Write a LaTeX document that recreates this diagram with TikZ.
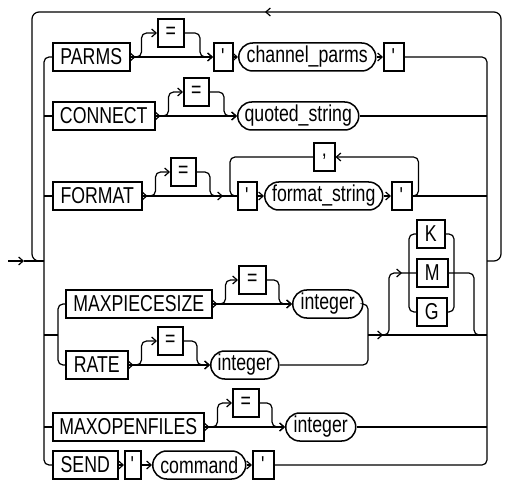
\documentclass[tikz,border=0pt]{standalone}
\usepackage{fontspec}
\setmainfont{Liberation Sans}[FakeStretch=0.77]
\usetikzlibrary{arrows.meta,shapes.misc,decorations.markings}
\begin{document}
\begin{tikzpicture}[x=1pt,y=-1pt,
  barb/.tip={Straight Barb[length=4.5pt,width=8pt]},
  conn/.style={line width=1.2pt},
  rc/.style={rounded corners=5pt},
  tb/.style={draw, line width=1.5pt, minimum height=28pt, inner sep=0pt, anchor=west, font=\fontsize{23}{23}\selectfont},
  tov/.style={tb, rounded rectangle},
  tipat/.style={postaction={decorate, decoration={markings, mark=at position #1 with {\arrow{barb}}}}}]
\useasboundingbox (0,0) rectangle (509,481);

% nodes
\node[tb, minimum width=77pt] (parms) at (52,57) {PARMS};
\node[tb, minimum width=26pt] (eq1) at (157,33) {=};
\node[tb, minimum width=19pt] (q1) at (213,57) {\textquotesingle};
\node[tov, minimum width=137pt] (cp) at (238,57) {channel\_parms};
\node[tb, minimum width=20pt] (q2) at (383,57) {\textquotesingle};

\node[tb, minimum width=102pt] (connect) at (52,116) {CONNECT};
\node[tb, minimum width=25pt] (eq2) at (183,92) {=};
\node[tov, minimum width=121pt] (qs) at (237,116) {quoted\_string};

\node[tb, minimum width=89pt] (format) at (52,196) {FORMAT};
\node[tb, minimum width=25pt] (eq3) at (170,172) {=};
\node[tb, minimum width=19pt] (q3) at (237,196) {\textquotesingle};
\node[tov, minimum width=118pt] (fs) at (264,196) {format\_string};
\node[tb, minimum width=20pt] (q4) at (391,196) {\textquotesingle};
\node[tb, minimum width=21pt] (comma) at (313,157) {,};

\node[tb, minimum width=146pt] (mps) at (65,304) {MAXPIECESIZE};
\node[tb, minimum width=27pt] (eq4) at (238,280) {=};
\node[tov, minimum width=70pt] (int1) at (292,304) {integer};

\node[tb, minimum width=62pt] (rate) at (65,365) {RATE};
\node[tb, minimum width=25pt] (eq5) at (157,341) {=};
\node[tov, minimum width=68pt] (int2) at (210,365) {integer};

\node[tb, minimum width=28pt] (kk) at (416,234) {K};
\node[tb, minimum width=31pt] (mm) at (416,273) {M};
\node[tb, minimum width=30pt] (gg) at (416,312) {G};

\node[tb, minimum width=151pt] (mof) at (52,427) {MAXOPENFILES};
\node[tb, minimum width=26pt] (eq6) at (232,403) {=};
\node[tov, minimum width=70pt] (int3) at (285,427) {integer};

\node[tb, minimum width=65pt] (send) at (52,465) {SEND};
\node[tb, minimum width=16pt] (q5) at (124,465) {\textquotesingle};
\node[tov, minimum width=93pt] (cmd) at (152,465) {command};
\node[tb, minimum width=21pt] (q6) at (252,465) {\textquotesingle};

% coordinates
\coordinate (L) at (44,0);
\coordinate (R) at (487,0);
\coordinate (L2) at (58,0);
\coordinate (R2) at (368,0);
\coordinate (KL) at (409,0);
\coordinate (KR) at (454,0);
\coordinate (st) at (8,261);
\coordinate (ea) at (24,261);
\coordinate (Lj) at (44,261);
\coordinate (Rj) at (487,261);
\coordinate (o1) at (501,261);
\coordinate (o2) at (501,12);
\coordinate (o3) at (32,12);
\coordinate (o4) at (32,261);
\coordinate (j1) at (44,335);
\coordinate (j2) at (58,335);
\coordinate (j3) at (368,335);
\coordinate (j4) at (487,335);
\coordinate (m0) at (383,335);
\coordinate (m1) at (389,335);
\coordinate (m2) at (474,335);
\coordinate (m3) at (481,335);

% entry and outer loop
\draw[conn,-barb] (st) -- (ea);
\draw[conn] (ea) -- (Lj);
\draw[conn,rounded corners=7pt,tipat=493pt] (Rj) -- (o1) -- (o2) -- (o3) -- (o4) -- (Lj);

% rails
\draw[conn,rc] (parms.west) -| (send.west -| L) -- (send.west);
\draw[conn,rc] (q2.east) -| (q6.east -| R) -- (q6.east);
\draw[conn] (connect.west) -- (connect.west -| L);
\draw[conn] (format.west) -- (format.west -| L);
\draw[conn] (mof.west) -- (mof.west -| L);

% PARMS row
\draw[conn,tipat=5pt,-barb] (parms.east) -- (q1.west);
\draw[conn,rc,-barb] ([xshift=6pt]parms.east) -- ([xshift=11pt]parms.east) |- (eq1.west);
\draw[conn,rc,-barb] (eq1.east) -| ([xshift=-13pt]q1.west) -- (q1.west);
\draw[conn,-barb] (q1.east) -- (cp.west);
\draw[conn,-barb] (cp.east) -- (q2.west);

% CONNECT row
\draw[conn,tipat=5pt,-barb] (connect.east) -- (qs.west);
\draw[conn,rc,-barb] ([xshift=6pt]connect.east) -- ([xshift=13pt]connect.east) |- (eq2.west);
\draw[conn,rc,-barb] (eq2.east) -| ([xshift=-13pt]qs.west) -- (qs.west);
\draw[conn] (qs.east) -- (qs.east -| R);

% FORMAT row
\draw[conn,tipat=5pt,tipat=-14pt] (format.east) -- (q3.west);
\draw[conn,rc,-barb] ([xshift=6pt]format.east) -- ([xshift=13pt]format.east) |- (eq3.west);
\draw[conn,rc] (eq3.east) -| ([xshift=-27pt]q3.west) -- ([xshift=-21pt]q3.west);
\draw[conn,-barb] (q3.east) -- (fs.west);
\draw[conn,-barb] (fs.east) -- (q4.west);
\draw[conn] (q4.east) -- (q4.east -| R);
\draw[conn,rc,-barb] (q4.east) -- ([xshift=6pt]q4.east) |- (comma.east);
\draw[conn,rc] (comma.west) -| ([xshift=-7pt]q3.west) -- (q3.west);

% MAXPIECESIZE / RATE
\draw[conn,rc] (mps.west) -| (rate.west -| L2) -- (rate.west);
\draw[conn] (j1) -- (j2);
\draw[conn,tipat=5pt,-barb] (mps.east) -- (int1.west);
\draw[conn,rc,-barb] ([xshift=6pt]mps.east) -- ([xshift=13pt]mps.east) |- (eq4.west);
\draw[conn,rc,-barb] (eq4.east) -| ([xshift=-13pt]int1.west) -- (int1.west);
\draw[conn,tipat=5pt,-barb] (rate.east) -- (int2.west);
\draw[conn,rc,-barb] ([xshift=6pt]rate.east) -- ([xshift=13pt]rate.east) |- (eq5.west);
\draw[conn,rc,-barb] (eq5.east) -| ([xshift=-13pt]int2.west) -- (int2.west);
\draw[conn,rc] (int1.east) -| (int2.east -| R2) -- (int2.east);
\draw[conn,tipat=15pt] (j3) -- (j4);

% K M G
\draw[conn,rc,tipat=-14pt] (m0) -- (m1) |- (mm.west);
\draw[conn,rc] (mm.east) -| (m2) -- (m3);
\draw[conn,rc] (kk.west) -| (gg.west -| KL) -- (gg.west);
\draw[conn,rc] (kk.east) -| (gg.east -| KR) -- (gg.east);

% MAXOPENFILES
\draw[conn,tipat=5pt,-barb] (mof.east) -- (int3.west);
\draw[conn,rc,-barb] ([xshift=6pt]mof.east) -- ([xshift=13pt]mof.east) |- (eq6.west);
\draw[conn,rc,-barb] (eq6.east) -| ([xshift=-13pt]int3.west) -- (int3.west);
\draw[conn] (int3.east) -- (int3.east -| R);

% SEND
\draw[conn,-barb] (send.east) -- (q5.west);
\draw[conn,-barb] (q5.east) -- (cmd.west);
\draw[conn,-barb] (cmd.east) -- (q6.west);
\end{tikzpicture}
\end{document}
